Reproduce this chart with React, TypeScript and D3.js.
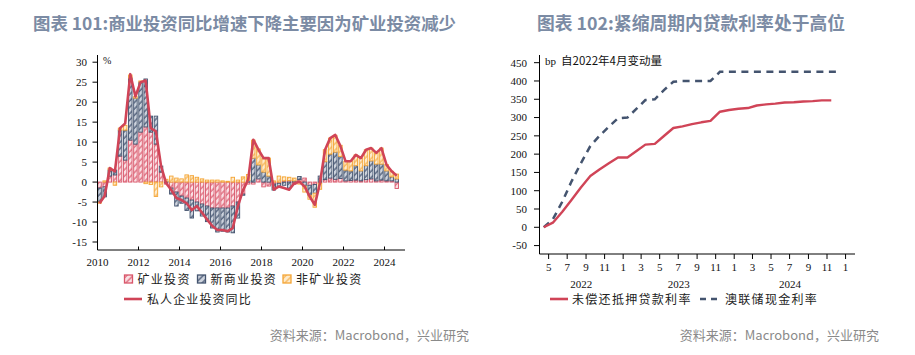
import React from "react";
import * as d3 from "d3";

const W = 915;
const H = 355;

// ---------- Left chart data (quarterly, 2010Q1 .. 2024Q3) ----------
const leftStartYear = 2010;
const miningInv = [
  -1.5, -1.2, 1.5, 1.8, 6.5, 5.5, 10.5, 9.5, 12.5, 13.8,
  12.5, 9.5, 2.5, -0.5, -1.5, -2.5, -3.5, -4, -4.5, -5,
  -5.5, -6, -6.5, -6.5, -6.5, -6.5, -6, -5, -3, -0.5,
  -0.5, 0.8, -1.2, -1, -0.5, -0.3, 0.3, 0.4, -0.6, 0.6,
  1, -0.8, -0.6, -0.3, 0.6, 1, 0.7, 0.9, 0.3, 0.4,
  0.5, 0.3, 0.6, 0.8, 0.3, 0.5, 0.3, 0.3, -1.6,
];
const newBizInv = [
  -3.5, -2.5, 1.5, 1.2, 6.5, 7.5, 15.5, 11.5, 12.5, 12,
  4, 7, 1.5, 0.2, -1.5, -3.5, -1.8, -3.1, -4.5, -2.2,
  -3, -3.9, -5, -6, -5.8, -6, -6.7, -4, -0.3, 0.4,
  6, 3.5, 2.5, 1.5, -1.5, -0.8, -0.8, -1.5, 0.3, 0.8,
  -1, -2.5, -2.2, 1.5, 4.5, 6, 6.8, 5.5, 2.7, 2.4,
  3.6, 2.5, 3.5, 4.5, 4.2, 4, 2.5, 1, 0.8,
];
const nonMiningInv = [
  -0.3, 0.3, 0.5, -0.8, 0.5, 1.2, 0.8, 0.4, 0.3, -0.4,
  -0.6, -3.6, -1.2, 0.5, 1.5, 1, 0.8, 1.8, 1.6, 1.2,
  0.8, 0.5, 0.5, 0.5, 0.3, 0.2, 1.2, 0.5, 1.3, 1.5,
  4.5, 4, 3.5, 4.5, 0.3, 1.5, 1, 0.8, 0.7, -0.5,
  -1.5, -1, -3.5, -1.5, 3, 4, 4.2, 2.8, 2.2, 2.5,
  2.7, 3.2, 4, 3.2, 2.8, 4, 1.6, 1.4, 1.2,
];
const privateInvYoY = [
  -5.3, -3.5, 3.5, 2.7, 13.5, 14.7, 27, 21.4, 25, 25.4,
  13.5, 12.7, 4, -0.3, -2, -4, -4.5, -5.3, -7, -6,
  -7.7, -9.4, -11, -12, -12, -12.3, -11.5, -6, -2, 0.6,
  10.6, 8.1, 6, 6, -1.9, -1.1, -1.5, -1.9, -0.3, 0.1,
  -1.1, -3.6, -5.7, -0.3, 8.1, 11, 11.8, 9, 5.2, 5.2,
  6.8, 6, 8.1, 8.5, 7.3, 8.5, 4.3, 2.7, 1.6,
];
const leftYTicks = [30, 25, 20, 15, 10, 5, 0, -5, -10, -15];
const leftXTicks = [2010, 2012, 2014, 2016, 2018, 2020, 2022, 2024];
const leftSeriesNames = ["矿业投资", "新商业投资", "非矿业投资"];
const leftLineName = "私人企业投资同比";

// ---------- Right chart data (monthly from 2022-04) ----------
const rightStart = [2022, 3]; // April 2022
const mortgageRate = [
  0, 12.6, 42.6, 74.6, 109, 140, 158, 175, 191, 191, 209, 226,
  228, 249.6, 271.5, 276, 282, 287, 291, 316, 320.7, 324, 326, 333,
  336, 338, 341, 342, 344, 345, 347, 347,
];
const cashRate = [
  0, 22, 70, 125, 175, 222, 250, 275, 298, 300, 325, 348,
  350, 375, 398, 400, 400, 400, 400, 425, 425, 425, 425, 425,
  425, 425, 425, 425, 425, 425, 425, 425, 425,
];
const rightYTicks = [450, 400, 350, 300, 250, 200, 150, 100, 50, 0, -50];
const monthTicks = [
  "2022-05", "2022-07", "2022-09", "2022-11", "2023-01", "2023-03", "2023-05",
  "2023-07", "2023-09", "2023-11", "2024-01", "2024-03", "2024-05", "2024-07",
  "2024-09", "2024-11", "2025-01",
];
const yearLabels = ["2022", "2023", "2024"];
const rightSeriesNames = ["未偿还抵押贷款利率", "澳联储现金利率"];

const RED = "#d04457";
const NAVY = "#44546f";
const ORANGE = "#f4a535";
const TITLE = "#7b8ba4";
const CJK = "'Noto Sans CJK SC', 'Noto Sans', sans-serif";
const SERIF = "'Liberation Serif', 'DejaVu Serif', serif";

function parseYM(s: string) {
  const [y, m] = s.split("-").map(Number);
  return new Date(y, m - 1, 1);
}

export default function App() {
  // ---------- Left chart ----------
  const lx = d3.scaleLinear().domain([2010, 2025]).range([97.5, 405]);
  const ly = d3.scaleLinear().domain([-17, 31.8]).range([250, 55]);
  const qPos = (i: number) => lx(leftStartYear + 0.1 + 0.25 * i);
  const rows = miningInv.map((m, i) => ({
    mining: m,
    newBiz: newBizInv[i],
    nonMining: nonMiningInv[i],
  }));
  const stack = d3
    .stack<any>()
    .keys(["mining", "newBiz", "nonMining"])
    .offset(d3.stackOffsetDiverging);
  const layers = stack(rows);
  const pats = ["pat-red", "pat-navy", "pat-orange"];
  const strokes = ["#d9566a", NAVY, ORANGE];
  const bw = 3.5;
  const leftLine = d3
    .line<number>()
    .x((_, i) => qPos(i))
    .y((d) => ly(d))(privateInvYoY);

  // ---------- Right chart ----------
  const rx = d3
    .scaleTime()
    .domain([new Date(2022, 3, 1), new Date(2025, 1, 1)])
    .range([539.5, 855]);
  const ry = d3.scaleLinear().domain([-73, 471]).range([254, 55]);
  const mDate = (i: number) => new Date(rightStart[0], rightStart[1] + i, 15);
  const mortLine = d3
    .line<number>()
    .x((_, i) => rx(mDate(i)))
    .y((d) => ry(d))(mortgageRate);
  const cashLine = d3
    .line<number>()
    .x((_, i) => rx(mDate(i)))
    .y((d) => ry(d))(cashRate);
  const [d0, d1] = rx.domain();
  const yearCenter = (ys: string) => {
    const y = Number(ys);
    const a = new Date(Math.max(+new Date(y, 0, 1), +d0));
    const b = new Date(Math.min(+new Date(y + 1, 0, 1), +d1));
    return (rx(a) + rx(b)) / 2;
  };

  return (
    <svg width={W} height={H} style={{ display: "block", position: "absolute", left: 0, top: 0 }}>
      <defs>
        <pattern id="pat-red" patternUnits="userSpaceOnUse" width="4.5" height="4.5" patternTransform="rotate(45)">
          <rect width="4.5" height="4.5" fill="#fae0e4" />
          <line x1="1" y1="0" x2="1" y2="4.5" stroke="#de6679" strokeWidth="1.3" />
        </pattern>
        <pattern id="pat-navy" patternUnits="userSpaceOnUse" width="4.5" height="4.5" patternTransform="rotate(45)">
          <rect width="4.5" height="4.5" fill="#cdd3dd" />
          <line x1="1" y1="0" x2="1" y2="4.5" stroke="#4a5a75" strokeWidth="1.3" />
        </pattern>
        <pattern id="pat-orange" patternUnits="userSpaceOnUse" width="4.5" height="4.5" patternTransform="rotate(45)">
          <rect width="4.5" height="4.5" fill="#feebcc" />
          <line x1="1" y1="0" x2="1" y2="4.5" stroke="#f7b65a" strokeWidth="1.3" />
        </pattern>
      </defs>
      <rect width={W} height={H} fill="#fff" />

      {/* Titles */}
      <text x={33} y={30} fontFamily={CJK} fontSize={17.4} fontWeight="bold" fill={TITLE}>
        图表 101:商业投资同比增速下降主要因为矿业投资减少
      </text>
      <text x={537} y={30} fontFamily={CJK} fontSize={17.8} fontWeight="bold" fill={TITLE}>
        图表 102:紧缩周期内贷款利率处于高位
      </text>

      {/* ---------- Left chart ---------- */}
      <g>
        {layers.map((layer, k) =>
          layer.map((seg, i) => {
            const a = seg[0];
            const b = seg[1];
            if (a === b) return null;
            const top = ly(Math.max(a, b));
            const bot = ly(Math.min(a, b));
            return (
              <rect
                key={`b${k}-${i}`}
                x={qPos(i) - bw / 2}
                y={top}
                width={bw}
                height={Math.max(0.5, bot - top)}
                fill={`url(#${pats[k]})`}
                stroke={strokes[k]}
                strokeWidth={0.9}
              />
            );
          })
        )}
        <path d={leftLine || ""} fill="none" stroke={RED} strokeWidth={2.6} strokeLinejoin="round" />
        {/* axes */}
        <line x1={97.5} x2={97.5} y1={55} y2={250} stroke="#000" strokeWidth={1} />
        <line x1={97.5} x2={405} y1={250} y2={250} stroke="#000" strokeWidth={1} />
        {leftYTicks.map((t) => (
          <g key={`ly${t}`}>
            <line x1={92.5} x2={97.5} y1={ly(t)} y2={ly(t)} stroke="#000" />
            <text x={87} y={ly(t)} dy="0.35em" textAnchor="end" fontFamily={SERIF} fontSize={11} fill="#111">
              {t}
            </text>
          </g>
        ))}
        {leftXTicks.map((t) => (
          <g key={`lx${t}`}>
            <line x1={lx(t)} x2={lx(t)} y1={246.5} y2={250} stroke="#000" />
            <text x={lx(t)} y={266} textAnchor="middle" fontFamily={SERIF} fontSize={11} fill="#111">
              {t}
            </text>
          </g>
        ))}
        <text x={103} y={64} fontFamily={SERIF} fontSize={10} fill="#111">%</text>

        {/* legend */}
        {[124.5, 197.5, 283].map((x0, k) => (
          <g key={`lg${k}`}>
            <rect x={x0} y={275} width={8} height={8} fill={`url(#${pats[k]})`} stroke={strokes[k]} strokeWidth={1.3} />
            <text x={x0 + 13} y={283.5} fontFamily={CJK} fontSize={12} letterSpacing={1.3} fill="#222">
              {leftSeriesNames[k]}
            </text>
          </g>
        ))}
        <line x1={124} x2={142} y1={299} y2={299} stroke={RED} strokeWidth={2.6} />
        <text x={147} y={303.5} fontFamily={CJK} fontSize={12} letterSpacing={1.1} fill="#222">
          {leftLineName}
        </text>
        <text x={469} y={340} textAnchor="end" fontFamily={CJK} fontSize={13} fill="#8a8a8a">
          资料来源：Macrobond，兴业研究
        </text>
      </g>

      {/* ---------- Right chart ---------- */}
      <g>
        <path d={cashLine || ""} fill="none" stroke={NAVY} strokeWidth={2.5} strokeDasharray="7,5.5" />
        <path d={mortLine || ""} fill="none" stroke={RED} strokeWidth={2.4} strokeLinejoin="round" />
        <line x1={539.5} x2={539.5} y1={55} y2={254} stroke="#000" />
        <line x1={539.5} x2={855} y1={254} y2={254} stroke="#000" />
        {rightYTicks.map((t) => (
          <g key={`ry${t}`}>
            <line x1={534} x2={539.5} y1={ry(t)} y2={ry(t)} stroke="#000" />
            <text x={527} y={ry(t)} dy="0.35em" textAnchor="end" fontFamily={SERIF} fontSize={11} fill="#111">
              {t}
            </text>
          </g>
        ))}
        {monthTicks.map((m) => {
          const d = parseYM(m);
          const x = rx(d);
          return (
            <g key={`rx${m}`}>
              <line x1={x} x2={x} y1={254} y2={259} stroke="#000" />
              <text x={x} y={271} textAnchor="middle" fontFamily={SERIF} fontSize={11} fill="#111">
                {d.getMonth() + 1}
              </text>
            </g>
          );
        })}
        {yearLabels.map((y) => (
          <text key={`yl${y}`} x={yearCenter(y)} y={288} textAnchor="middle" fontFamily={SERIF} fontSize={11} fill="#111">
            {y}
          </text>
        ))}
        <text x={545} y={65} fontFamily={SERIF} fontSize={11} fill="#111">bp</text>
        <text x={561} y={65} fontFamily={CJK} fontSize={11.5} fill="#111">自2022年4月变动量</text>

        {/* legend */}
        <line x1={550} x2={568} y1={299} y2={299} stroke={RED} strokeWidth={2.6} />
        <text x={572} y={303.5} fontFamily={CJK} fontSize={12} letterSpacing={1.3} fill="#222">
          {rightSeriesNames[0]}
        </text>
        <line x1={700} x2={720} y1={299} y2={299} stroke={NAVY} strokeWidth={2.6} strokeDasharray="6,5" />
        <text x={725} y={303.5} fontFamily={CJK} fontSize={12} letterSpacing={1.3} fill="#222">
          {rightSeriesNames[1]}
        </text>
        <text x={879} y={340} textAnchor="end" fontFamily={CJK} fontSize={13} fill="#8a8a8a">
          资料来源：Macrobond，兴业研究
        </text>
      </g>
    </svg>
  );
}
